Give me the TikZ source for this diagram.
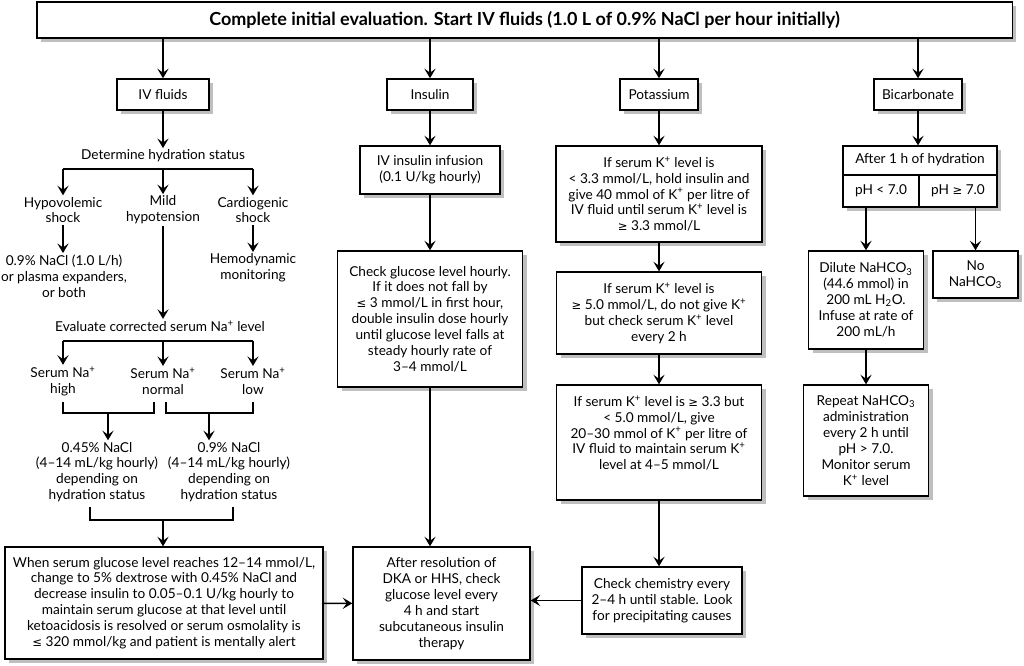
\documentclass[tikz,border=0pt]{standalone}
\usepackage{fontspec}
\setmainfont{Lato}
\newfontfamily\symf{DejaVu Sans}
\usetikzlibrary{arrows.meta,shadows}
\newcommand{\leqsym}{{\symf\fontsize{8.3}{11.3}\selectfont ≤}}
\newcommand{\geqsym}{{\symf\fontsize{8.3}{11.3}\selectfont ≥}}
\newcommand{\kplus}{K\textsuperscript{+}}
\newcommand{\naplus}{Na\textsuperscript{+}}
\begin{document}
\begin{tikzpicture}[x=0.025cm, y=-0.025cm,
  every node/.style={font=\fontsize{9.7}{11.3}\selectfont, align=center, inner sep=1pt},
  box/.style={draw, fill=white, line width=0.9pt,
    drop shadow={shadow xshift=3pt, shadow yshift=-3pt, fill=black!25, opacity=1}},
  arr/.style={line width=1.1pt, -{Stealth[length=2.4mm, width=2.8mm, inset=1mm]}},
  lne/.style={line width=1.1pt}]
\useasboundingbox (0,0) rectangle (1024,665);

\node[box, minimum width=24.375cm, minimum height=0.9cm, font=\fontsize{12.8}{14}\selectfont\bfseries] (title) at (524.5,20)
  {Complete initial evaluation. Start IV fluids (1.0 L of 0.9\% NaCl per hour initially)};

\node[box, minimum width=2.3cm, minimum height=0.78cm] (ivf) at (163,94.5) {IV fluids};
\node[box, minimum width=2.15cm, minimum height=0.78cm] (ins) at (430,94.5) {Insulin};
\node[box, minimum width=1.95cm, minimum height=0.78cm] (pot) at (659,94.5) {Potassium};
\node[box, minimum width=2.2cm, minimum height=0.78cm] (bic) at (918,94.5) {Bicarbonate};
\foreach \n in {ivf,ins,pot,bic} \draw[arr] (title.south -| \n) -- (\n);

\node (hyd) at (163,156) {Determine hydration status};
\draw[arr] (ivf) -- (hyd);
\coordinate (s1) at (163,169);
\node (hypo) at (63,210) {Hypovolemic\\shock};
\node (mild) at (163,210) {Mild\\hypotension};
\node (card) at (253,210) {Cardiogenic\\shock};
\draw[lne] (hypo |- s1) -- (card |- s1);
\foreach \n in {hypo,mild,card} \draw[arr] (\n |- s1) -- (\n);
\node (nacl) at (64,276) {0.9\% NaCl (1.0 L/h)\\or plasma expanders,\\or both};
\node (hemo) at (253,268) {Hemodynamic\\monitoring};
\draw[arr] (hypo) -- (hypo |- nacl.north);
\draw[arr] (card) -- (hemo);
\node (evna) at (160,326) {Evaluate corrected serum \naplus{} level};
\draw[arr] (mild) -- (mild |- evna.north);

\coordinate (s2) at (163,341);
\node (nahi) at (63,381) {Serum \naplus\\high};
\node (nano) at (163,381) {Serum \naplus\\normal};
\node (nalo) at (253,381) {Serum \naplus\\low};
\draw[lne] (nahi |- s2) -- (nalo |- s2);
\foreach \n in {nahi,nano,nalo} \draw[arr] (\n |- s2) -- (\n);
\coordinate (b1) at (108,413);
\coordinate (b2) at (209,413);
\draw[lne] (63,402) |- (b1) -| (154,402);
\draw[lne] (166,402) |- (b2) -| (253,402);
\node (half) at (97,472) {0.45\% NaCl\\(4–14 mL/kg hourly)\\depending on\\hydration status};
\node (full) at (229,472) {0.9\% NaCl\\(4–14 mL/kg hourly)\\depending on\\hydration status};
\draw[arr] (b1) -- (b1 |- half.north);
\draw[arr] (b2) -- (b2 |- full.north);

\node[box, minimum width=7.95cm, minimum height=2.8cm] (glc) at (164,603)
  {When serum glucose level reaches 12–14 mmol/L,\\change to 5\% dextrose with 0.45\% NaCl and\\decrease insulin to 0.05–0.1 U/kg hourly to\\maintain serum glucose at that level until\\ketoacidosis is resolved or serum osmolality is\\\leqsym{} 320 mmol/kg and patient is mentally alert};
\coordinate (b3) at (163,520);
\draw[lne] (90,507) |- (b3) -| (233,507);
\draw[arr] (b3) -- (b3 |- glc.north);

\node[box, minimum width=3.5cm, minimum height=1.2cm] (inf) at (430,170) {IV insulin infusion\\(0.1 U/kg hourly)};
\draw[arr] (ins) -- (inf);
\node[box, minimum width=4.625cm, minimum height=3.4cm] (chk) at (430,319)
  {Check glucose level hourly.\\If it does not fall by\\\leqsym{} 3 mmol/L in first hour,\\double insulin dose hourly\\until glucose level falls at\\steady hourly rate of\\3–4 mmol/L};
\draw[arr] (inf) -- (chk);
\node[box, minimum width=4.425cm, minimum height=2.825cm] (aft) at (441.5,603.5)
  {After resolution of\\DKA or HHS, check\\glucose level every\\4 h and start\\subcutaneous insulin\\therapy};
\draw[arr] (chk.south) -- (chk.south |- aft.north);
\draw[arr] (glc) -- (aft);

\node[box, minimum width=5.15cm, minimum height=2.4cm] (k1) at (659,194)
  {If serum \kplus{} level is\\< 3.3 mmol/L, hold insulin and\\give 40 mmol of \kplus{} per litre of\\IV fluid until serum \kplus{} level is\\\geqsym{} 3.3 mmol/L};
\node[box, minimum width=5.125cm, minimum height=2.05cm] (k2) at (659,313)
  {If serum \kplus{} level is\\\geqsym{} 5.0 mmol/L, do not give \kplus\\but check serum \kplus{} level\\every 2 h};
\node[box, minimum width=5.125cm, minimum height=2.875cm] (k3) at (659,442.5) {};
\node (k3t) at (659,433)
  {If serum \kplus{} level is \geqsym{} 3.3 but\\< 5.0 mmol/L, give\\20–30 mmol of \kplus{} per litre of\\IV fluid to maintain serum \kplus\\level at 4–5 mmol/L};
\draw[arr] (pot) -- (k1);
\draw[arr] (k1) -- (k2);
\draw[arr] (k2) -- (k3);
\node[box, minimum width=4cm, minimum height=1.675cm] (chem) at (662,600.5)
  {Check chemistry every\\2–4 h until stable. Look\\for precipitating causes};
\draw[arr] (k3.south) -- (k3.south |- chem.north);
\draw[arr] (chem.west) -- (chem.west -| aft.east);

\node[box, minimum width=3.85cm, minimum height=1.525cm] (ahb) at (920,176.5) {};
\node (ahbt) at (920,160) {After 1 h of hydration};
\node (phlo) at (881,191) {pH < 7.0};
\node (phhi) at (958,191) {pH \geqsym{} 7.0};
\draw[line width=0.9pt] (843,175) -- (997,175);
\draw[line width=0.9pt] (919,175) -- (919,207);
\draw[arr] (bic) -- (bic |- ahb.north);
\node[box, minimum width=2.875cm, minimum height=2.45cm] (dil) at (866,300)
  {Dilute NaHCO\textsubscript{3}\\(44.6 mmol) in\\200 mL H\textsubscript{2}O.\\Infuse at rate of\\200 mL/h};
\node[box, minimum width=2.125cm, minimum height=1.175cm] (nob) at (975.5,274.5) {No\\NaHCO\textsubscript{3}};
\draw[arr] (dil |- ahb.south) -- (dil);
\draw[arr] (nob |- ahb.south) -- (nob);
\node[box, minimum width=3.125cm, minimum height=2.775cm] (rep) at (866,440.5)
  {Repeat NaHCO\textsubscript{3}\\administration\\every 2 h until\\pH > 7.0.\\Monitor serum\\\kplus{} level};
\draw[arr] (dil) -- (rep);
\end{tikzpicture}
\end{document}
